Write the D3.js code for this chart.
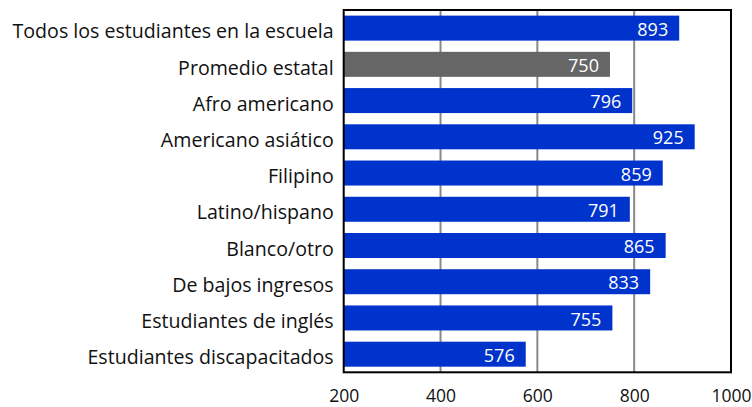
<!DOCTYPE html>
<html><head><meta charset="utf-8">
<script src="https://cdn.jsdelivr.net/npm/d3@7"></script>
<style>body{margin:0;background:#fff}svg{display:block}text{font-family:"Open Sans",sans-serif}</style>
</head><body><svg id="c" width="752" height="407"></svg>
<script>
const categories = ["Todos los estudiantes en la escuela","Promedio estatal","Afro americano","Americano asiático","Filipino","Latino/hispano","Blanco/otro","De bajos ingresos","Estudiantes de inglés","Estudiantes discapacitados"];
const values = [893,750,796,925,859,791,865,833,755,576];
const highlight = [false,true,false,false,false,false,false,false,false,false];
const xTicks = [200,400,600,800,1000];

const svg = d3.select("#c");
const m = {l:343.7, r:731, t:10, b:372.3};
const x = d3.scaleLinear().domain([200,1000]).range([m.l, m.r]);
const y = d3.scaleBand().domain(categories).range([m.t, m.b]).paddingInner(0.31).paddingOuter(0.155);

// gridlines
svg.append("g").selectAll("line").data(xTicks.slice(1,-1)).join("line")
  .attr("x1",d=>x(d)).attr("x2",d=>x(d)).attr("y1",m.t).attr("y2",m.b)
  .attr("stroke","#888").attr("stroke-width",2);

// bars
svg.append("g").selectAll("rect").data(values).join("rect")
  .attr("x",x(200)).attr("y",(d,i)=>y(categories[i]))
  .attr("width",d=>x(d)-x(200)).attr("height",y.bandwidth())
  .attr("fill",(d,i)=>highlight[i]?"#666666":"#0033CC");

// value labels
svg.append("g").selectAll("text").data(values).join("text")
  .attr("x",d=>x(d)-11).attr("y",(d,i)=>y(categories[i])+y.bandwidth()/2)
  .attr("dy","0.42em").attr("text-anchor","end").attr("fill","#fff")
  .attr("font-size",18).text(d=>d);

// frame
svg.append("rect").attr("x",m.l).attr("y",m.t).attr("width",m.r-m.l).attr("height",m.b-m.t)
  .attr("fill","none").attr("stroke","#000").attr("stroke-width",2);

// y labels
const ya = svg.append("g").attr("transform",`translate(${m.l},0)`)
  .call(d3.axisLeft(y).tickSize(0).tickPadding(10));
ya.select(".domain").remove();
ya.selectAll("text").attr("font-size",19.6).attr("fill","#111").attr("dy","0.52em").style("font-family","'Open Sans',sans-serif");

// x axis
const xa = svg.append("g").attr("transform",`translate(0,${m.b})`)
  .call(d3.axisBottom(x).tickValues(xTicks).tickSize(0).tickPadding(13).tickFormat(d3.format("d")));
xa.select(".domain").remove();
xa.selectAll("text").attr("font-size",17.5).attr("fill","#111").attr("y",29.5).attr("dy",0).style("font-family","'Open Sans',sans-serif");
</script></body></html>
